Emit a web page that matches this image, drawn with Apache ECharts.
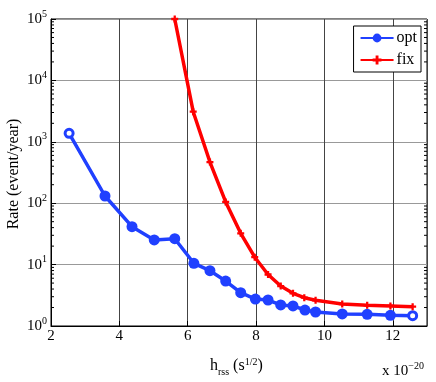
<!DOCTYPE html>
<html><head><meta charset="utf-8">
<script src="https://cdn.jsdelivr.net/npm/echarts@6/dist/echarts.min.js"></script>
<style>html,body{margin:0;padding:0;background:#fff}#c{width:436px;height:382px}</style>
</head><body><div id="c"></div>
<script>
var optX = [2.53, 3.58, 4.37, 5.02, 5.62, 6.18, 6.65, 7.11, 7.55, 7.98, 8.35, 8.72, 9.08, 9.43, 9.74, 10.52, 11.25, 11.93, 12.58];
var optY = [1375, 131, 41.4, 25.2, 26.4, 10.5, 7.96, 5.4, 3.49, 2.75, 2.65, 2.2, 2.12, 1.82, 1.69, 1.57, 1.55, 1.49, 1.47];
var fixX = [5.62, 6.16, 6.65, 7.11, 7.55, 7.96, 8.35, 8.72, 9.08, 9.41, 9.74, 10.52, 11.25, 11.93, 12.58];
var fixY = [100000, 3090, 468, 105, 32.3, 13.2, 6.9, 4.47, 3.4, 2.89, 2.62, 2.28, 2.17, 2.12, 2.06];
var seriesNames = ['opt', 'fix'];
var yTitle = 'Rate (event/year)';

var BLUE = '#2040ff', RED = '#ff0000';
var FONT = '"Liberation Serif", "DejaVu Serif", serif';

var optData = optX.map(function (x, i) {
  var d = { value: [x, optY[i]] };
  if (i === 0 || i === optX.length - 1) {
    d.symbolSize = 8;
    d.itemStyle = { color: '#fff', borderColor: BLUE, borderWidth: 3 };
  }
  return d;
});
var fixData = fixX.map(function (x, i) { return [x, fixY[i]]; });

var chart = echarts.init(document.getElementById('c'), null, { renderer: 'canvas' });
var PLUS = 'path://M-1.3,-4 L1.3,-4 L1.3,-1.3 L4,-1.3 L4,1.3 L1.3,1.3 L1.3,4 L-1.3,4 L-1.3,1.3 L-4,1.3 L-4,-1.3 L-1.3,-1.3 Z';

chart.setOption({
  animation: false,
  backgroundColor: '#fff',
  grid: { left: 51, right: 9, top: 19, bottom: 56, show: true, borderColor: '#000', borderWidth: 1, backgroundColor: 'transparent' },
  legend: {
    data: seriesNames,
    orient: 'vertical',
    right: 15, top: 26,
    itemWidth: 33, itemHeight: 11, itemGap: 6,
    padding: [4, 4, 4, 6],
    borderColor: '#000', borderWidth: 1, backgroundColor: '#fff',
    textStyle: { fontFamily: FONT, fontSize: 16, color: '#000', padding: [0, 0, 0, -2] }
  },
  xAxis: {
    type: 'value', min: 2, max: 13, interval: 2,
    axisLine: { show: true, lineStyle: { color: '#000' } },
    axisTick: { show: true, inside: true, length: 5, lineStyle: { color: '#000' } },
    axisLabel: { showMaxLabel: false, fontFamily: FONT, fontSize: 15, color: '#000', margin: 3 },
    splitLine: { show: true, lineStyle: { color: '#444', width: 1 } }
  },
  yAxis: {
    type: 'log', logBase: 10, min: 1, max: 100000,
    axisLine: { show: true, lineStyle: { color: '#000' } },
    axisTick: { show: true, inside: true, length: 5, lineStyle: { color: '#000' } },
    axisLabel: {
      margin: 4,
      formatter: function (v) { return '{b|10}{s|' + Math.round(Math.log10(v)) + '}'; },
      rich: {
        b: { fontFamily: FONT, fontSize: 15, color: '#000' },
        s: { fontFamily: FONT, fontSize: 10, color: '#000', verticalAlign: 'bottom', padding: [0, 0, 10, 0] }
      }
    },
    splitLine: { show: true, lineStyle: { color: '#999', width: 1 } }
  },
  series: [
    {
      name: seriesNames[0], type: 'line', data: optData,
      symbol: 'circle', symbolSize: 11,
      lineStyle: { color: BLUE, width: 3.5 },
      itemStyle: { color: BLUE },
      z: 3
    },
    {
      name: seriesNames[1], type: 'line', data: fixData,
      symbol: PLUS, symbolSize: 7,
      lineStyle: { color: RED, width: 3.5 },
      itemStyle: { color: RED },
      z: 4
    }
  ]
});

// minor log ticks + titles
var g = [];
var left = 51, right = 427;
for (var k = 0; k < 5; k++) {
  for (var m = 2; m <= 9; m++) {
    var y = chart.convertToPixel({ yAxisIndex: 0 }, m * Math.pow(10, k));
    g.push({ type: 'line', shape: { x1: left, y1: y, x2: left + 3, y2: y }, style: { stroke: '#000', lineWidth: 1 }, silent: true });
    g.push({ type: 'line', shape: { x1: right, y1: y, x2: right - 3, y2: y }, style: { stroke: '#000', lineWidth: 1 }, silent: true });
  }
}
g.push({
  type: 'text', left: 210, top: 357,
  style: {
    text: '{b|h}{sub|rss}{b| (s}{sup|1/2}{b|)}',
    rich: {
      b: { fontFamily: FONT, fontSize: 16, fill: '#000' },
      sub: { fontFamily: FONT, fontSize: 10, fill: '#000', verticalAlign: 'top', padding: [12, 0, 0, 0] },
      sup: { fontFamily: FONT, fontSize: 10, fill: '#000', verticalAlign: 'bottom', padding: [0, 0, 10, 0] }
    }
  }
});
g.push({
  type: 'text', left: 382, top: 361,
  style: {
    text: '{b|x 10}{sup|\u221220}',
    rich: {
      b: { fontFamily: FONT, fontSize: 15, fill: '#000' },
      sup: { fontFamily: FONT, fontSize: 10, fill: '#000', verticalAlign: 'bottom', padding: [0, 0, 10, 0] }
    }
  }
});
g.push({
  type: 'text', x: 14, y: 174, rotation: Math.PI / 2,
  style: { text: yTitle, fontFamily: FONT, fontSize: 16, fill: '#000', align: 'center', verticalAlign: 'middle' }
});
chart.setOption({ graphic: g });
</script>
</body></html>
